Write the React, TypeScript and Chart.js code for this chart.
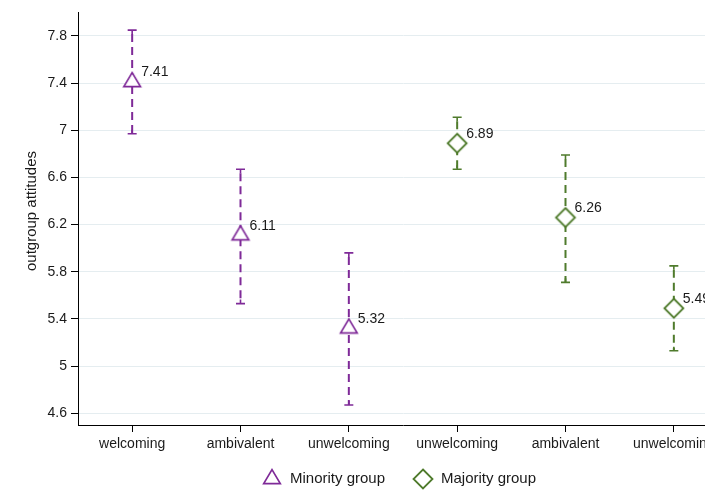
import React, { useEffect, useRef } from "react";
import { Chart, registerables } from "chart.js";

Chart.register(...registerables);

const categories = ["welcoming", "ambivalent", "unwelcoming", "unwelcoming", "ambivalent", "unwelcoming"];
const seriesNames = ["Minority group", "Majority group"];
const yTitle = "outgroup attitudes";
const minorityX = [1, 2, 3];
const minorityMean = [7.41, 6.11, 5.32];
const minorityLow = [6.97, 5.53, 4.67];
const minorityHigh = [7.85, 6.67, 5.96];
const majorityX = [4, 5, 6];
const majorityMean = [6.89, 6.26, 5.49];
const majorityLow = [6.67, 5.71, 5.13];
const majorityHigh = [7.11, 6.79, 5.85];
const yTicks = [4.6, 5.0, 5.4, 5.8, 6.2, 6.6, 7.0, 7.4, 7.8];

const PURPLE = "#7f2a98";
const GREEN = "#4f7b2c";
const FONT = '"Liberation Sans", Arial, Helvetica, sans-serif';

function makeTriangle(color: string) {
  const c = document.createElement("canvas");
  c.width = 24;
  c.height = 24;
  const g = c.getContext("2d")!;
  const cx = 12, cy = 12, hw = 8.3, h = 14;
  const top = cy - (h * 2) / 3, base = cy + h / 3;
  g.beginPath();
  g.moveTo(cx, top);
  g.lineTo(cx + hw, base);
  g.lineTo(cx - hw, base);
  g.closePath();
  g.fillStyle = "#ffffff";
  g.fill();
  g.lineWidth = 1.7;
  g.strokeStyle = color;
  g.stroke();
  return c;
}

function makeDiamond(color: string) {
  const c = document.createElement("canvas");
  c.width = 24;
  c.height = 24;
  const g = c.getContext("2d")!;
  const cx = 12, cy = 12, r = 9.5;
  g.beginPath();
  g.moveTo(cx, cy - r);
  g.lineTo(cx + r, cy);
  g.lineTo(cx, cy + r);
  g.lineTo(cx - r, cy);
  g.closePath();
  g.fillStyle = "#ffffff";
  g.fill();
  g.lineWidth = 1.8;
  g.strokeStyle = color;
  g.stroke();
  return c;
}

const errorBarPlugin = {
  id: "errorBars",
  beforeDatasetsDraw(chart: any) {
    const { ctx } = chart;
    const x = chart.scales.x;
    const y = chart.scales.y;
    chart.data.datasets.forEach((ds: any) => {
      ds.data.forEach((p: any, i: number) => {
        const px = x.getPixelForValue(p.x);
        const yh = y.getPixelForValue(ds.high[i]);
        const yl = y.getPixelForValue(ds.low[i]);
        ctx.save();
        ctx.strokeStyle = ds.borderColor;
        ctx.lineWidth = 2;
        ctx.setLineDash([8, 5]);
        ctx.beginPath();
        ctx.moveTo(px, yh + 4);
        ctx.lineTo(px, yl);
        ctx.stroke();
        ctx.setLineDash([]);
        ctx.lineWidth = 1.6;
        ctx.beginPath();
        ctx.moveTo(px - 4.5, yh);
        ctx.lineTo(px + 4.5, yh);
        ctx.moveTo(px, yh);
        ctx.lineTo(px, yh + 4);
        ctx.moveTo(px - 4.5, yl);
        ctx.lineTo(px + 4.5, yl);
        ctx.moveTo(px, yl);
        ctx.lineTo(px, yl - 4);
        ctx.stroke();
        ctx.restore();
      });
    });
  },
  afterDatasetsDraw(chart: any) {
    const { ctx } = chart;
    const x = chart.scales.x;
    const y = chart.scales.y;
    ctx.save();
    ctx.font = `14px ${FONT}`;
    ctx.fillStyle = "#1a1a1a";
    ctx.textBaseline = "middle";
    ctx.textAlign = "left";
    chart.data.datasets.forEach((ds: any) => {
      ds.data.forEach((p: any) => {
        const px = x.getPixelForValue(p.x);
        const py = y.getPixelForValue(p.y);
        ctx.fillText(p.y.toFixed(2), px + 9, py - 9.5);
      });
    });
    ctx.restore();
  },
  afterDraw(chart: any) {
    const { ctx } = chart;
    ctx.save();
    // y-axis title
    ctx.font = `15px ${FONT}`;
    ctx.fillStyle = "#1a1a1a";
    ctx.textBaseline = "middle";
    ctx.textAlign = "center";
    ctx.translate(32, 211);
    ctx.rotate(-Math.PI / 2);
    ctx.fillText(yTitle, 0, 0);
    ctx.restore();

    ctx.save();
    ctx.font = `15px ${FONT}`;
    ctx.fillStyle = "#1a1a1a";
    ctx.textBaseline = "middle";
    ctx.textAlign = "left";
    const cy = 479;
    const markerW = 20, gapAfterMarker = 8, gapBetween = 28;
    const items = chart.data.datasets.map((ds: any) => ({
      img: ds.pointStyle,
      text: ds.label,
      tw: ctx.measureText(ds.label).width,
    }));
    let total = 0;
    items.forEach((it: any, i: number) => {
      total += markerW + gapAfterMarker + it.tw + (i < items.length - 1 ? gapBetween : 0);
    });
    let cx = 399 - total / 2;
    items.forEach((it: any) => {
      const img = it.img as HTMLCanvasElement;
      ctx.drawImage(img, cx + markerW / 2 - img.width / 2, cy - img.height / 2);
      cx += markerW + gapAfterMarker;
      ctx.fillText(it.text, cx, cy);
      cx += it.tw + gapBetween;
    });
    ctx.restore();
  },
};

export default function App() {
  const ref = useRef<HTMLCanvasElement>(null);

  useEffect(() => {
    if (!ref.current) return;
    Chart.defaults.font.family = FONT;
    const tri = makeTriangle(PURPLE);
    const dia = makeDiamond(GREEN);
    const tickFont = { size: 14, family: FONT };
    const chart = new Chart(ref.current, {
      type: "scatter",
      data: {
        datasets: [
          {
            label: seriesNames[0],
            data: minorityX.map((v, i) => ({ x: v, y: minorityMean[i] })),
            low: minorityLow,
            high: minorityHigh,
            borderColor: PURPLE,
            backgroundColor: "#ffffff",
            pointStyle: tri,
            pointRadius: 10,
            showLine: false,
          } as any,
          {
            label: seriesNames[1],
            data: majorityX.map((v, i) => ({ x: v, y: majorityMean[i] })),
            low: majorityLow,
            high: majorityHigh,
            borderColor: GREEN,
            backgroundColor: "#ffffff",
            pointStyle: dia,
            pointRadius: 10,
            showLine: false,
          } as any,
        ],
      },
      options: {
        animation: false,
        responsive: false,
        events: [],
        layout: { padding: { top: 10, right: 0, left: 0, bottom: 0 } },
        plugins: {
          legend: { display: false },
          tooltip: { enabled: false },
        },
        scales: {
          x: {
            type: "linear",
            min: 0.5,
            max: 6.5,
            afterBuildTicks: (s: any) => {
              s.ticks = categories.map((_, i) => ({ value: i + 1 }));
            },
            ticks: {
              autoSkip: false,
              maxRotation: 0,
              padding: 4,
              color: "#1a1a1a",
              font: tickFont,
              callback: (v: any) => categories[Math.round(Number(v)) - 1] ?? "",
            },
            grid: { drawOnChartArea: false, drawTicks: true, tickLength: 7, tickColor: "#000", lineWidth: 1 },
            border: { color: "#000", width: 1 },
            afterFit: (s: any) => {
              s.height = 66;
            },
          } as any,
          y: {
            min: 4.5,
            max: 8.0,
            afterBuildTicks: (s: any) => {
              s.ticks = yTicks.map((v) => ({ value: v }));
            },
            ticks: {
              padding: 4,
              color: "#1a1a1a",
              font: tickFont,
              callback: (v: any) => String(Number(Number(v).toFixed(1))),
            },
            grid: { color: "#e5edf0", lineWidth: 1, drawTicks: true, tickLength: 7, tickColor: "#000" },
            border: { color: "#000", width: 1 },
            afterFit: (s: any) => {
              s.width = 78;
            },
          } as any,
        },
      },
      plugins: [errorBarPlugin],
    });
    return () => chart.destroy();
  }, []);

  return (
    <div
      style={{
        position: "fixed",
        left: 0,
        top: 0,
        width: 705,
        height: 491,
        overflow: "hidden",
        background: "#fff",
      }}
    >
      <canvas ref={ref} width={739} height={491} style={{ display: "block" }} />
    </div>
  );
}
